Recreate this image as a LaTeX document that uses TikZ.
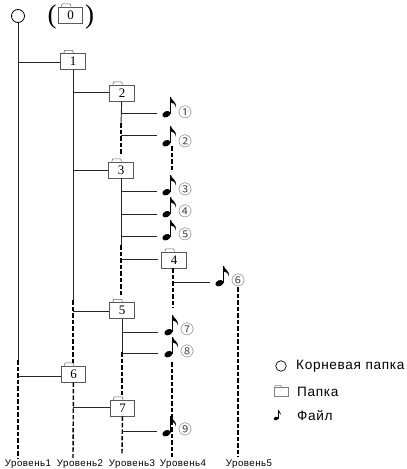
\documentclass[tikz,border=0pt]{standalone}
\usepackage{fontspec}
\setmainfont{Liberation Serif}
\newfontfamily\labelfont[LetterSpace=5]{Liberation Sans}
\newfontfamily\symfont{Noto Sans CJK SC}
\tikzset{
  folderbox/.style={draw=black!65,line width=0.8pt,fill=white,minimum width=24.5pt,minimum height=16pt,inner sep=0pt,font=\fontsize{13}{13}\selectfont,
    append after command={\pgfextra{\draw[black!60,line width=0.6pt] ([xshift=3.5pt]\tikzlastnode.north west) -- ++(0.8,-2.8) -- ++(8,0) -- ++(0.8,2.8);}}},
  solidline/.style={line width=0.9pt,black!85},
  dashline/.style={line width=1.4pt,black,dash pattern=on 4.5pt off 2pt},
  numsym/.style={inner sep=0pt,text=black!70,font=\symfont\fontsize{13.5}{14}\selectfont},
  lvl/.style={inner sep=0pt,font=\labelfont\fontsize{9.7}{10}\selectfont},
  legendtext/.style={inner sep=0pt,anchor=west,font=\labelfont\fontsize{13.6}{14}\selectfont},
  musicnote/.pic={
    \fill[black,rotate around={25:(-3.6,17.2)}] (-3.6,17.2) ellipse[x radius=4.2,y radius=3];
    \fill[black] (-0.5,17) -- (-0.5,0) -- (0.9,0) -- (0.9,17) -- cycle;
    \fill[black] (0.9,0) .. controls (1.5,4) and (6.5,3.5) .. (6,11) .. controls (5.5,6.5) and (2.5,6) .. (0.9,5.5) -- cycle;
  },
  smallnote/.pic={
    \fill[black,rotate around={25:(-2,8.5)}] (-2,8.5) ellipse[x radius=2.3,y radius=1.7];
    \fill[black] (-0.3,8.5) -- (-0.3,0) -- (0.4,0) -- (0.4,8.5) -- cycle;
    \fill[black] (0.4,0) .. controls (0.8,2) and (3.5,2) .. (3.2,5.5) .. controls (2.8,3.2) and (1.2,3) .. (0.4,2.8) -- cycle;
  },
}
\begin{document}
\begin{tikzpicture}[x=1pt,y=-1pt]
\useasboundingbox (0,0) rectangle (407,469);
% root
\node[draw,circle,line width=0.8pt,minimum size=13pt,inner sep=0pt] (root) at (18,16) {};
\node[folderbox] (f0) at (70.5,15) {0};
\node[inner sep=0pt,font=\fontsize{27}{27}\selectfont] (pl) at (52,17.5) {(};
\node[inner sep=0pt,font=\fontsize{27}{27}\selectfont] (pr) at (89.5,17.5) {)};
% folders
\node[folderbox] (f1) at (73,61.5) {1};
\node[folderbox] (f2) at (122,93) {2};
\node[folderbox] (f3) at (121,170) {3};
\node[folderbox] (f4) at (174,260) {4};
\node[folderbox] (f5) at (122,310.5) {5};
\node[folderbox] (f6) at (73.5,374) {6};
\node[folderbox] (f7) at (122.5,408) {7};
% trunk points
\coordinate (a1) at (18,62);
\coordinate (a6) at (18,376);
\coordinate (a1m) at (18,360);
\coordinate (a1e) at (18,458);
\coordinate (b2) at (73,92);
\coordinate (b3) at (73,170);
\coordinate (b5) at (73,311);
\coordinate (bm) at (73,300);
\coordinate (be) at (73,365);
\coordinate (b7) at (73,407);
\coordinate (bz) at (73,458);
\coordinate (cm1) at (121,123);
\coordinate (ce1) at (121,155);
\coordinate (t1) at (121,113);
\coordinate (t2) at (121,135);
\coordinate (t3) at (121,191);
\coordinate (t4) at (121,214);
\coordinate (t5) at (121,236);
\coordinate (t6) at (121,259);
\coordinate (cm2) at (121,245);
\coordinate (ce2) at (121,295);
\coordinate (t7) at (122,332);
\coordinate (t8) at (122,353);
\coordinate (cm3) at (122,352);
\coordinate (ce3) at (122,395);
\coordinate (t9) at (122,431);
\coordinate (ce4) at (122,455);
\coordinate (d1) at (172,146);
\coordinate (d2) at (172,170);
\coordinate (d5) at (172,362);
\coordinate (d6) at (172,457);
\coordinate (g0) at (173,268);
\coordinate (g1) at (173,282);
\coordinate (g2) at (173,308);
\coordinate (h1) at (238,287);
\coordinate (h2) at (238,457);
\coordinate (e1) at (157,113);
\coordinate (e2) at (157,135);
\coordinate (e3) at (157,191);
\coordinate (e4) at (157,214);
\coordinate (e5) at (157,236);
\coordinate (e6) at (158,259);
\coordinate (e7) at (210,282);
\coordinate (e8) at (158,332);
\coordinate (e9) at (158,353);
\coordinate (e10) at (157,431);
% vertical trunks
\draw[solidline] (root) -- (a1m);
\draw[dashline] (a1m) -- (a1e);
\draw[solidline] (f1) -- (bm);
\draw[dashline] (bm) -- (be);
\draw[dashline] (f6) -- (bz);
\draw[solidline] (f2) -- (cm1);
\draw[dashline] (cm1) -- (ce1);
\draw[solidline] (f3) -- (cm2);
\draw[dashline] (cm2) -- (ce2);
\draw[solidline] (f5) -- (cm3);
\draw[dashline] (cm3) -- (ce3);
\draw[dashline] (f7) -- (ce4);
\draw[dashline] (g0) -- (g2);
\draw[dashline] (d1) -- (d2);
\draw[dashline] (d5) -- (d6);
\draw[dashline] (h1) -- (h2);
% branches
\draw[solidline] (a1) -- (f1.west |- a1);
\draw[solidline] (b2) -- (f2.west |- b2);
\draw[solidline] (b3) -- (f3.west |- b3);
\draw[solidline] (b5) -- (f5.west |- b5);
\draw[solidline] (a6) -- (f6.west |- a6);
\draw[solidline] (b7) -- (f7.west |- b7);
\draw[solidline] (t1) -- (e1);
\draw[solidline] (t2) -- (e2);
\draw[solidline] (t3) -- (e3);
\draw[solidline] (t4) -- (e4);
\draw[solidline] (t5) -- (e5);
\draw[solidline] (t6) -- (e6);
\draw[solidline] (g1) -- (e7);
\draw[solidline] (t7) -- (e8);
\draw[solidline] (t8) -- (e9);
\draw[solidline] (t9) -- (e10);
% files
\foreach \n/\x/\y/\c/\cx/\cy in {1/170/97/①/185/112,2/170/126/②/185/141,3/170/175/③/185/189,4/170/197/④/185/211,5/170/220/⑤/185/234,6/223/266/⑥/238/280,7/172/315/⑦/187/329,8/172/337/⑧/187/351,9/170/416/⑨/185/429}{
  \pic at (\x,\y) {musicnote};
  \node[numsym] (c\n) at (\cx,\cy) {\c};
}
% level labels
\node[lvl] (l1) at (28,464) {Уровень1};
\node[lvl] (l2) at (80,464) {Уровень2};
\node[lvl] (l3) at (132,464) {Уровень3};
\node[lvl] (l4) at (183,464) {Уровень4};
\node[lvl] (l5) at (249,464) {Уровень5};
% legend
\node[draw,circle,line width=0.7pt,minimum size=10.5pt,inner sep=0pt] (lc) at (281,366) {};
\node[legendtext] (lct) at (296,366.5) {Корневая папка};
\node[draw=black!50,line width=0.5pt,minimum width=14pt,minimum height=9pt,inner sep=0pt] (lf) at (281,391.5) {};
\draw[black!50,line width=0.5pt] ([xshift=1pt]lf.north west) -- ++(1,-1.5) -- ++(5,0) -- ++(1,1.5);
\node[legendtext] (lft) at (297,391.5) {Папка};
\pic at (278,410) {smallnote};
\node[legendtext] (lnt) at (297,416) {Файл};
\end{tikzpicture}
\end{document}
